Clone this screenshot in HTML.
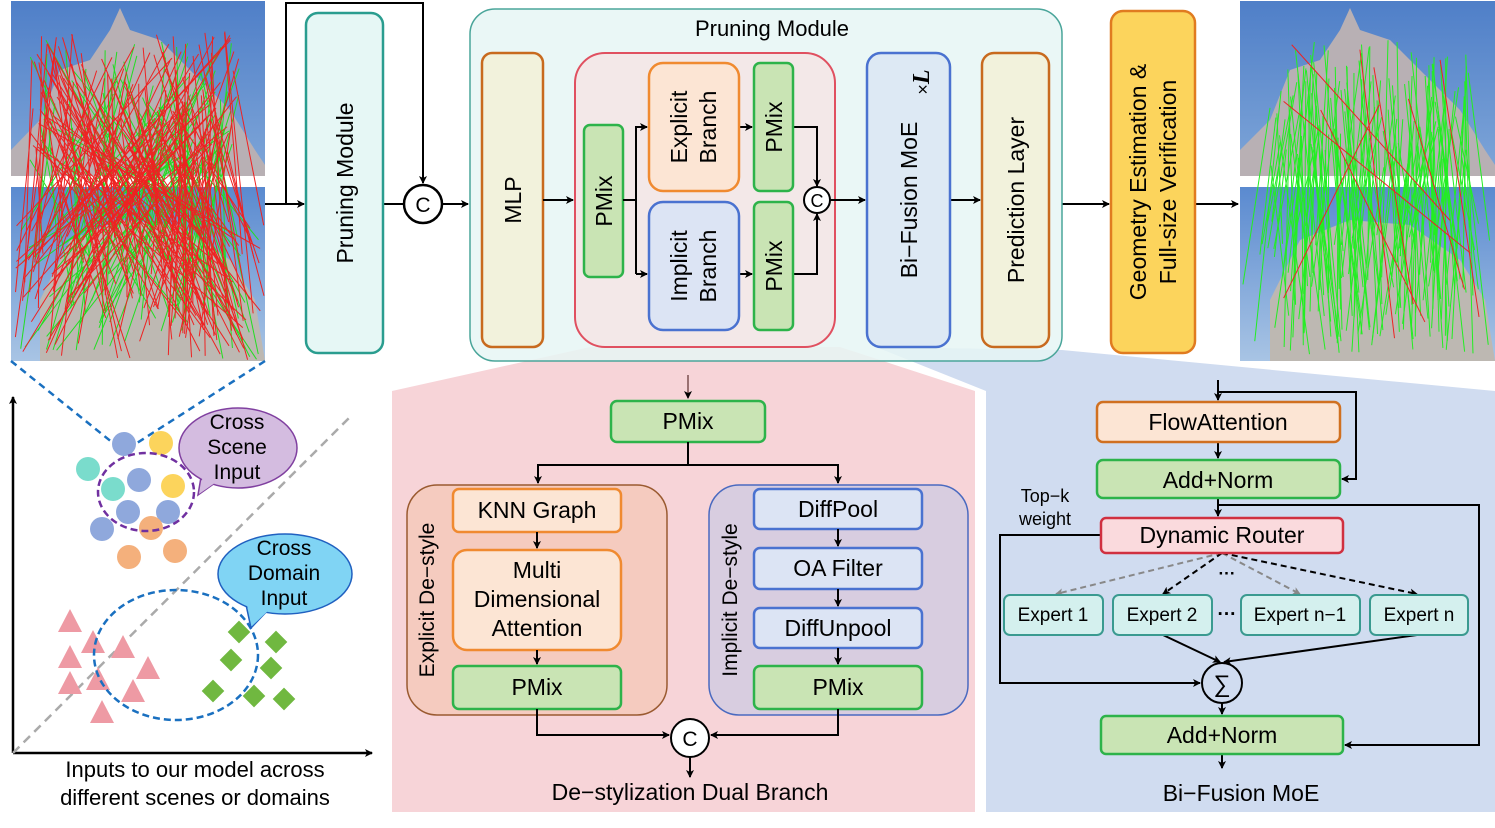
<!DOCTYPE html>
<html><head><meta charset="utf-8"><style>
html,body{margin:0;padding:0;background:#fff;}
svg{display:block;font-family:"Liberation Sans",Arial,sans-serif;}
</style></head><body>
<svg id="s" width="1495" height="828" viewBox="0 0 1495 828" xmlns="http://www.w3.org/2000/svg">
<defs>
<marker id="a" markerWidth="8" markerHeight="8" refX="7" refY="4" orient="auto" markerUnits="userSpaceOnUse"><path d="M0,0 L8,4 L0,8 L2,4z" fill="#000"/></marker>
<marker id="ag" markerWidth="8" markerHeight="8" refX="7" refY="4" orient="auto" markerUnits="userSpaceOnUse"><path d="M0,0 L8,4 L0,8 L2,4z" fill="#888"/></marker>
<linearGradient id="sky1" x1="0" y1="0" x2="0" y2="1"><stop offset="0" stop-color="#4f7fc8"/><stop offset="1" stop-color="#7fa6d8"/></linearGradient>
<linearGradient id="sky2" x1="0" y1="0" x2="0" y2="1"><stop offset="0" stop-color="#5a8ad0"/><stop offset="1" stop-color="#a8c4e4"/></linearGradient>
</defs>

<g id="photos">
<rect x="11" y="1" width="254" height="175" fill="url(#sky1)"/>
<path d="M11,176 L11,150 L40,120 L60,70 L90,60 L110,30 L120,8 L130,30 L160,40 L180,60 L200,80 L230,110 L255,150 L265,165 L265,176z" fill="#b8b0b4"/>
<rect x="11" y="187" width="254" height="174" fill="url(#sky2)"/>
<path d="M40,361 L40,300 L70,240 L120,220 L180,225 L230,260 L255,300 L265,361z" fill="#bdb8b2"/>
<rect x="1240" y="1" width="255" height="175" fill="url(#sky1)"/>
<path d="M1240,176 L1240,150 L1270,120 L1290,70 L1320,60 L1340,30 L1350,8 L1360,30 L1390,40 L1410,60 L1430,80 L1460,110 L1485,150 L1495,165 L1495,176z" fill="#b8b0b4"/>
<rect x="1240" y="187" width="255" height="174" fill="url(#sky2)"/>
<path d="M1270,361 L1270,300 L1300,240 L1350,220 L1410,225 L1460,260 L1485,300 L1495,361z" fill="#bdb8b2"/>
<g id="lines1" stroke-width="1"></g>
<g id="lines2" stroke-width="1"></g>
</g>

<g stroke="#000" stroke-width="2" fill="none">
<line x1="265" y1="204" x2="304" y2="204" marker-end="url(#a)"/>
<polyline points="286,204 286,3 423,3 423,183" marker-end="url(#a)"/>
<line x1="383" y1="204" x2="403" y2="204"/>
<line x1="442" y1="204" x2="468" y2="204" marker-end="url(#a)"/>
<line x1="1062" y1="204" x2="1109" y2="204" marker-end="url(#a)"/>
<line x1="1195" y1="204" x2="1238" y2="204" marker-end="url(#a)"/>
</g>
<rect x="306" y="13" width="77" height="340" rx="12" fill="#e6f7f5" stroke="#2a9d8f" stroke-width="2.5"/>
<text transform="translate(353,183) rotate(-90)" text-anchor="middle" font-size="23">Pruning Module</text>
<circle cx="423" cy="204" r="19" fill="#fff" stroke="#000" stroke-width="2.5"/>
<text x="423" y="212" text-anchor="middle" font-size="21">C</text>

<path d="M590,347 L840,347 L975,391 L392,391z" fill="#f7d4d8"/>
<path d="M876,347 L1062,350 L1495,391 L986,391z" fill="#d0dcf0"/>

<rect x="470" y="9" width="592" height="352" rx="25" fill="#e6f6f4" fill-opacity="0.85" stroke="#4aa59a" stroke-width="1.5"/>
<text x="772" y="36" text-anchor="middle" font-size="22">Pruning Module</text>
<rect x="482" y="53" width="61" height="294" rx="10" fill="#f2f2dc" stroke="#c86a1e" stroke-width="2.5"/>
<text transform="translate(521,200) rotate(-90)" text-anchor="middle" font-size="23">MLP</text>
<line x1="543" y1="200" x2="573" y2="200" stroke="#000" stroke-width="2" marker-end="url(#a)"/>
<rect x="575" y="53" width="260" height="294" rx="30" fill="#f3e8e8" stroke="#e05060" stroke-width="2"/>
<rect x="584" y="125" width="39" height="152" rx="6" fill="#c9e4b4" stroke="#2db34a" stroke-width="2.5"/>
<text transform="translate(612,201) rotate(-90)" text-anchor="middle" font-size="23">PMix</text>
<g stroke="#000" stroke-width="2" fill="none">
<line x1="623" y1="200" x2="636" y2="200"/>
<polyline points="636,274 636,127 647,127" marker-end="url(#a)"/>
<line x1="636" y1="274" x2="647" y2="274" marker-end="url(#a)"/>
<line x1="739" y1="127" x2="752" y2="127" marker-end="url(#a)"/>
<line x1="739" y1="274" x2="752" y2="274" marker-end="url(#a)"/>
<polyline points="793,127 817,127 817,186" marker-end="url(#a)"/>
<polyline points="793,274 817,274 817,214" marker-end="url(#a)"/>
<line x1="829" y1="200" x2="865" y2="200" marker-end="url(#a)"/>
<line x1="950" y1="200" x2="980" y2="200" marker-end="url(#a)"/>
</g>
<rect x="649" y="63" width="90" height="128" rx="14" fill="#fce5d4" stroke="#f08a30" stroke-width="2.5"/>
<text transform="translate(687,127) rotate(-90)" text-anchor="middle" font-size="23">Explicit</text>
<text transform="translate(716,127) rotate(-90)" text-anchor="middle" font-size="23">Branch</text>
<rect x="649" y="202" width="90" height="128" rx="14" fill="#dce4f4" stroke="#4a72d0" stroke-width="2.5"/>
<text transform="translate(687,266) rotate(-90)" text-anchor="middle" font-size="23">Implicit</text>
<text transform="translate(716,266) rotate(-90)" text-anchor="middle" font-size="23">Branch</text>
<rect x="754" y="63" width="39" height="128" rx="6" fill="#c9e4b4" stroke="#2db34a" stroke-width="2.5"/>
<text transform="translate(782,127) rotate(-90)" text-anchor="middle" font-size="23">PMix</text>
<rect x="754" y="202" width="39" height="128" rx="6" fill="#c9e4b4" stroke="#2db34a" stroke-width="2.5"/>
<text transform="translate(782,266) rotate(-90)" text-anchor="middle" font-size="23">PMix</text>
<circle cx="817" cy="200" r="13" fill="#fff" stroke="#000" stroke-width="2"/>
<text x="817" y="207" text-anchor="middle" font-size="18">C</text>
<rect x="867" y="53" width="83" height="294" rx="14" fill="#dde9f4" stroke="#4a72d0" stroke-width="2.5"/>
<text transform="translate(917,200) rotate(-90)" text-anchor="middle" font-size="23">Bi−Fusion MoE</text>
<text transform="translate(929,82) rotate(-90)" text-anchor="middle" font-size="24"><tspan font-size="18">×</tspan><tspan font-family="Liberation Serif" font-weight="bold" font-style="italic">L</tspan></text>
<rect x="982" y="53" width="67" height="294" rx="12" fill="#f2f2dc" stroke="#c86a1e" stroke-width="2.5"/>
<text transform="translate(1024,200) rotate(-90)" text-anchor="middle" font-size="23">Prediction Layer</text>

<rect x="1111" y="11" width="84" height="342" rx="12" fill="#fcd45c" stroke="#e07b20" stroke-width="2.5"/>
<text transform="translate(1146,182) rotate(-90)" text-anchor="middle" font-size="23">Geometry Estimation &amp;</text>
<text transform="translate(1176,182) rotate(-90)" text-anchor="middle" font-size="23">Full-size Verification</text>

<rect x="392" y="391" width="583" height="421" fill="#f7d4d8"/>
<line x1="688" y1="375" x2="688" y2="398" stroke="#7a5050" stroke-width="1.5" marker-end="url(#a)"/>
<rect x="611" y="401" width="154" height="41" rx="6" fill="#c9e4b4" stroke="#2db34a" stroke-width="2.5"/>
<text x="688" y="429" text-anchor="middle" font-size="23">PMix</text>
<g stroke="#000" stroke-width="2" fill="none">
<polyline points="688,442 688,465 538,465 538,483" marker-end="url(#a)"/>
<polyline points="688,465 838,465 838,483" marker-end="url(#a)"/>
</g>
<rect x="407" y="485" width="260" height="230" rx="30" fill="#f5cbbf" stroke="#9a5a30" stroke-width="1.5"/>
<text transform="translate(434,600) rotate(-90)" text-anchor="middle" font-size="21">Explicit De−style</text>
<rect x="453" y="489" width="168" height="43" rx="6" fill="#fce5d4" stroke="#f08a30" stroke-width="2.5"/>
<text x="537" y="518" text-anchor="middle" font-size="23">KNN Graph</text>
<rect x="453" y="550" width="168" height="100" rx="14" fill="#fce5d4" stroke="#f08a30" stroke-width="2.5"/>
<text x="537" y="578" text-anchor="middle" font-size="23">Multi</text>
<text x="537" y="607" text-anchor="middle" font-size="23">Dimensional</text>
<text x="537" y="636" text-anchor="middle" font-size="23">Attention</text>
<rect x="453" y="666" width="168" height="43" rx="6" fill="#c9e4b4" stroke="#2db34a" stroke-width="2.5"/>
<text x="537" y="695" text-anchor="middle" font-size="23">PMix</text>
<rect x="709" y="485" width="259" height="230" rx="30" fill="#d8cde0" stroke="#4a6ac0" stroke-width="1.5"/>
<text transform="translate(737,600) rotate(-90)" text-anchor="middle" font-size="21">Implicit De−style</text>
<rect x="754" y="489" width="168" height="40" rx="6" fill="#dce4f4" stroke="#4a72d0" stroke-width="2.5"/>
<text x="838" y="517" text-anchor="middle" font-size="23">DiffPool</text>
<rect x="754" y="548" width="168" height="41" rx="6" fill="#dce4f4" stroke="#4a72d0" stroke-width="2.5"/>
<text x="838" y="576" text-anchor="middle" font-size="23">OA Filter</text>
<rect x="754" y="608" width="168" height="40" rx="6" fill="#dce4f4" stroke="#4a72d0" stroke-width="2.5"/>
<text x="838" y="636" text-anchor="middle" font-size="23">DiffUnpool</text>
<rect x="754" y="666" width="168" height="43" rx="6" fill="#c9e4b4" stroke="#2db34a" stroke-width="2.5"/>
<text x="838" y="695" text-anchor="middle" font-size="23">PMix</text>
<g stroke="#000" stroke-width="2" fill="none">
<line x1="537" y1="532" x2="537" y2="548" marker-end="url(#a)"/>
<line x1="537" y1="650" x2="537" y2="664" marker-end="url(#a)"/>
<line x1="838" y1="529" x2="838" y2="546" marker-end="url(#a)"/>
<line x1="838" y1="589" x2="838" y2="606" marker-end="url(#a)"/>
<line x1="838" y1="648" x2="838" y2="664" marker-end="url(#a)"/>
<polyline points="537,709 537,735 669,735" marker-end="url(#a)"/>
<polyline points="838,709 838,735 711,735" marker-end="url(#a)"/>
<line x1="690" y1="757" x2="690" y2="777" marker-end="url(#a)"/>
</g>
<circle cx="690" cy="738" r="19" fill="#fff" stroke="#000" stroke-width="2"/>
<text x="690" y="746" text-anchor="middle" font-size="21">C</text>
<text x="690" y="800" text-anchor="middle" font-size="23">De−stylization Dual Branch</text>

<rect x="986" y="391" width="509" height="421" fill="#d0dcf0"/>
<g stroke="#000" stroke-width="2" fill="none">
<line x1="1218" y1="380" x2="1218" y2="400" marker-end="url(#a)"/>
<polyline points="1218,392 1356,392 1356,479 1342,479" marker-end="url(#a)"/>
<line x1="1218" y1="442" x2="1218" y2="458" marker-end="url(#a)"/>
<line x1="1218" y1="498" x2="1218" y2="516" marker-end="url(#a)"/>
<polyline points="1218,505 1479,505 1479,745 1345,745" marker-end="url(#a)"/>
<polyline points="1101,535 1000,535 1000,683 1200,683" marker-end="url(#a)"/>
<line x1="1163" y1="635" x2="1220" y2="662" marker-end="url(#a)"/>
<line x1="1417" y1="635" x2="1224" y2="662" marker-end="url(#a)"/>
<line x1="1222" y1="703" x2="1222" y2="714" marker-end="url(#a)"/>
<line x1="1222" y1="754" x2="1222" y2="768" marker-end="url(#a)"/>
</g>
<g stroke-width="2" fill="none" stroke-dasharray="6,4">
<line x1="1222" y1="553" x2="1056" y2="594" stroke="#888" marker-end="url(#ag)"/>
<line x1="1222" y1="553" x2="1163" y2="594" stroke="#000" marker-end="url(#a)"/>
<line x1="1222" y1="553" x2="1300" y2="594" stroke="#888" marker-end="url(#ag)"/>
<line x1="1222" y1="553" x2="1417" y2="594" stroke="#000" marker-end="url(#a)"/>
</g>
<rect x="1097" y="402" width="243" height="40" rx="6" fill="#fce5d4" stroke="#d07020" stroke-width="2.5"/>
<text x="1218" y="430" text-anchor="middle" font-size="23">FlowAttention</text>
<rect x="1097" y="460" width="243" height="38" rx="6" fill="#c9e4b4" stroke="#2db34a" stroke-width="2.5"/>
<text x="1218" y="488" text-anchor="middle" font-size="23">Add+Norm</text>
<rect x="1101" y="518" width="242" height="35" rx="5" fill="#fadadd" stroke="#d03040" stroke-width="2.5"/>
<text x="1222" y="543" text-anchor="middle" font-size="23">Dynamic Router</text>
<text x="1045" y="502" text-anchor="middle" font-size="18">Top−k</text>
<text x="1045" y="525" text-anchor="middle" font-size="18">weight</text>
<text x="1227" y="579" text-anchor="middle" font-size="17" font-weight="bold">···</text>
<g font-size="19" text-anchor="middle">
<rect x="1004" y="595" width="99" height="40" rx="6" fill="#d4f0ee" stroke="#3a9a90" stroke-width="2"/>
<text x="1053" y="621">Expert 1</text>
<rect x="1113" y="595" width="99" height="40" rx="6" fill="#d4f0ee" stroke="#3a9a90" stroke-width="2"/>
<text x="1162" y="621">Expert 2</text>
<rect x="1241" y="595" width="119" height="40" rx="6" fill="#d4f0ee" stroke="#3a9a90" stroke-width="2"/>
<text x="1300" y="621">Expert n−1</text>
<rect x="1370" y="595" width="98" height="40" rx="6" fill="#d4f0ee" stroke="#3a9a90" stroke-width="2"/>
<text x="1419" y="621">Expert n</text>
<text x="1227" y="620" font-weight="bold">···</text>
</g>
<circle cx="1222" cy="683" r="20" fill="#d0dcf0" stroke="#000" stroke-width="2"/>
<text x="1222" y="692" text-anchor="middle" font-size="24">∑</text>
<rect x="1101" y="716" width="242" height="38" rx="5" fill="#c9e4b4" stroke="#2db34a" stroke-width="2.5"/>
<text x="1222" y="743" text-anchor="middle" font-size="23">Add+Norm</text>
<text x="1241" y="801" text-anchor="middle" font-size="23">Bi−Fusion MoE</text>

<g stroke="#1a70c0" stroke-width="2.5" stroke-dasharray="7,5" fill="none">
<line x1="11" y1="361" x2="113" y2="443"/>
<line x1="265" y1="361" x2="137" y2="443"/>
</g>
<g stroke="#000" stroke-width="2.5" fill="none">
<line x1="13" y1="753" x2="13" y2="397" marker-end="url(#a)"/>
<line x1="13" y1="753" x2="372" y2="753" marker-end="url(#a)"/>
</g>
<line x1="13" y1="753" x2="352" y2="415" stroke="#aaa" stroke-width="2.5" stroke-dasharray="9,6"/>
<g>
<circle cx="88" cy="469" r="12" fill="#7adccc"/>
<circle cx="124" cy="444" r="12" fill="#8fa8dc"/>
<circle cx="161" cy="443" r="12" fill="#fcd45c"/>
<circle cx="113" cy="489" r="12" fill="#7adccc"/>
<circle cx="139" cy="480" r="12" fill="#8fa8dc"/>
<circle cx="173" cy="486" r="12" fill="#fcd45c"/>
<circle cx="128" cy="512" r="12" fill="#8fa8dc"/>
<circle cx="168" cy="512" r="12" fill="#8fa8dc"/>
<circle cx="102" cy="529" r="12" fill="#8fa8dc"/>
<circle cx="151" cy="528" r="12" fill="#f4b07c"/>
<circle cx="129" cy="557" r="12" fill="#f4b07c"/>
<circle cx="175" cy="551" r="12" fill="#f4b07c"/>
</g>
<ellipse cx="146" cy="492" rx="48" ry="39" fill="none" stroke="#7030a0" stroke-width="2.5" stroke-dasharray="7,4"/>
<polygon points="198,495 203,465 222,478" fill="#d4bce0" stroke="#8040a0" stroke-width="1.5"/>
<ellipse cx="238" cy="448" rx="59" ry="40" fill="#d4bce0" stroke="#8040a0" stroke-width="1.5"/>
<polygon points="199,494 205,466 222,478" fill="#d4bce0"/>
<text x="237" y="429" text-anchor="middle" font-size="21">Cross</text>
<text x="237" y="454" text-anchor="middle" font-size="21">Scene</text>
<text x="237" y="479" text-anchor="middle" font-size="21">Input</text>
<g fill="#ee9aa4">
<polygon points="70,609 58,632 82,632"/>
<polygon points="93,630 81,653 105,653"/>
<polygon points="123,635 111,658 135,658"/>
<polygon points="70,645 58,668 82,668"/>
<polygon points="148,656 136,679 160,679"/>
<polygon points="70,671 58,694 82,694"/>
<polygon points="98,667 86,690 110,690"/>
<polygon points="133,679 121,702 145,702"/>
<polygon points="102,700 90,723 114,723"/>
</g>
<ellipse cx="176" cy="655" rx="82" ry="65" fill="none" stroke="#1a70c0" stroke-width="2.5" stroke-dasharray="7,4"/>
<g fill="#70b840">
<rect x="231" y="624" width="16" height="16" transform="rotate(45 239 632)"/>
<rect x="268" y="634" width="16" height="16" transform="rotate(45 276 642)"/>
<rect x="223" y="652" width="16" height="16" transform="rotate(45 231 660)"/>
<rect x="263" y="660" width="16" height="16" transform="rotate(45 271 668)"/>
<rect x="205" y="683" width="16" height="16" transform="rotate(45 213 691)"/>
<rect x="246" y="688" width="16" height="16" transform="rotate(45 254 696)"/>
<rect x="276" y="691" width="16" height="16" transform="rotate(45 284 699)"/>
</g>
<polygon points="251,628 245,600 270,608" fill="#80d4f4" stroke="#2060c0" stroke-width="1.5"/>
<ellipse cx="285" cy="574" rx="67" ry="40" fill="#80d4f4" stroke="#2060c0" stroke-width="1.5"/>
<polygon points="252,626 246,601 270,609" fill="#80d4f4"/>
<text x="284" y="555" text-anchor="middle" font-size="21">Cross</text>
<text x="284" y="580" text-anchor="middle" font-size="21">Domain</text>
<text x="284" y="605" text-anchor="middle" font-size="21">Input</text>
<text x="195" y="777" text-anchor="middle" font-size="22">Inputs to our model across</text>
<text x="195" y="805" text-anchor="middle" font-size="22">different scenes or domains</text>
</svg>
<script>
(function(){
var seed=7;function r(){seed=(seed*16807)%2147483647;return (seed-1)/2147483646;}
var ns="http://www.w3.org/2000/svg";
function add(g,x1,y1,x2,y2,c){var l=document.createElementNS(ns,"line");l.setAttribute("x1",x1);l.setAttribute("y1",y1);l.setAttribute("x2",x2);l.setAttribute("y2",y2);l.setAttribute("stroke",c);g.appendChild(l);}
var g1=document.getElementById("lines1"),g2=document.getElementById("lines2");
for(var i=0;i<90;i++){add(g1,30+r()*210,40+r()*130,20+r()*240,230+r()*130,"#22dd22");}
for(var i=0;i<170;i++){add(g1,30+r()*210,30+r()*140,15+r()*250,220+r()*140,"#ee2222");}
for(var i=0;i<160;i++){var x=1270+r()*200;add(g2,x,40+r()*130,x+(r()-0.5)*60,220+r()*135,"#22ee22");}
for(var i=0;i<8;i++){add(g2,1270+r()*200,40+r()*130,1260+r()*220,220+r()*135,"#ee2222");}
})();
</script>
</body></html>
